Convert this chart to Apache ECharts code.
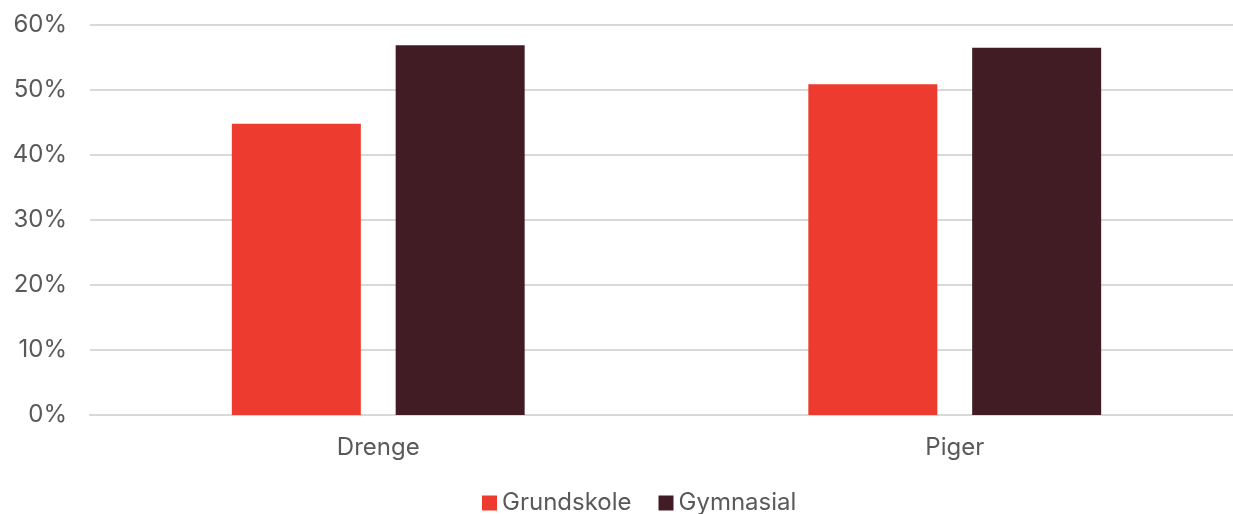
<!DOCTYPE html>
<html><head><meta charset="utf-8">
<script src="https://cdn.jsdelivr.net/npm/echarts@6/dist/echarts.min.js"></script>
<style>html,body{margin:0;padding:0;background:#fff}#c{width:1233px;height:514px}</style>
</head><body><div id="c"></div>
<script>
const categories = ['Drenge', 'Piger'];
const grundskole = [44.8, 50.9];
const gymnasial = [56.9, 56.5];
const seriesNames = ['Grundskole', 'Gymnasial'];

const chart = echarts.init(document.getElementById('c'), null, {renderer: 'canvas'});
const font = 'Inter, "Liberation Sans", sans-serif';
chart.setOption({
  animation: false,
  textStyle: {fontFamily: font},
  grid: {left: 90, right: -10, top: 25, bottom: 99, outerBoundsMode: 'none', containLabel: false},
  legend: {
    top: 491, left: 482, padding: 0, itemWidth: 15, itemHeight: 15, itemGap: 27,
    icon: 'rect',
    textStyle: {fontSize: 24, color: '#595959', fontFamily: font},
    data: seriesNames
  },
  xAxis: {
    type: 'category', data: categories,
    axisLine: {show: true, lineStyle: {color: '#d9d9d9', width: 2}},
    axisTick: {show: false},
    axisLabel: {fontSize: 24, color: '#595959', margin: 21, fontFamily: font}
  },
  yAxis: {
    type: 'value', min: 0, max: 60, interval: 10,
    axisLine: {show: false}, axisTick: {show: false},
    axisLabel: {formatter: '{value}%', fontSize: 24, color: '#595959', margin: 23, fontFamily: font},
    splitLine: {lineStyle: {color: '#d9d9d9', width: 2}}
  },
  series: [
    {name: seriesNames[0], type: 'bar', data: grundskole, barWidth: 129, barGap: '27%', itemStyle: {color: '#EE3B2F'}},
    {name: seriesNames[1], type: 'bar', data: gymnasial, barWidth: 129, barGap: '27%', itemStyle: {color: '#421C25'}}
  ]
});
</script></body></html>
